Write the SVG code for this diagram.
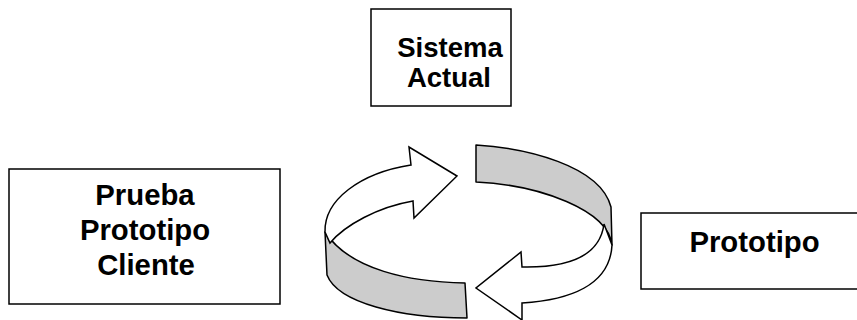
<svg xmlns="http://www.w3.org/2000/svg" width="857" height="320" viewBox="0 0 857 320">
  <style>
    .box { fill: #ffffff; stroke: #000000; stroke-width: 1.5; }
    .label { font-family: "Liberation Sans", Arial, sans-serif; font-weight: bold; fill: #000000; text-anchor: middle; }
    .band { fill: #cccccc; stroke: #000000; stroke-width: 1.5; stroke-linejoin: round; }
    .arrow { fill: #ffffff; stroke: #000000; stroke-width: 1.5; stroke-linejoin: miter; }
  </style>

  <rect width="857" height="320" fill="#ffffff"/>

  <!-- circular cycle: two ribbon arrows -->
  <g id="connectors">
    <!-- lower-left ribbon band -->
    <path class="band" d="M 325,232 L 327,275 C 338,303 400,318 467,318 L 465,283 C 410,282 350,270 325,232 Z"/>
    <!-- upper-right ribbon band -->
    <path class="band" d="M 476,145 C 525,148 600,165 611,207 L 612,245 C 608,210 540,185 476,182 Z"/>
    <!-- upper arrow, pointing right -->
    <path class="arrow" d="M 325,232 C 324,200 360,173 411,165 L 409,147 L 457,176 L 414,218 L 413,201 C 378,207 345,225 330,243 Z"/>
    <!-- lower arrow, pointing left -->
    <path class="arrow" d="M 612,245 C 610,285 570,300 522,303 L 522,320 L 476,288 L 521,252 L 522,267 C 570,268 600,255 604,224 Z"/>
  </g>

  <g id="sistema-actual">
    <rect class="box" x="371" y="9" width="140" height="97"/>
    <text class="label" x="450" y="57" font-size="27.5">Sistema</text>
    <text class="label" x="449" y="87" font-size="27.5">Actual</text>
  </g>

  <g id="prueba-prototipo-cliente">
    <rect class="box" x="9" y="169" width="271" height="135"/>
    <text class="label" x="145" y="205" font-size="29.3">Prueba</text>
    <text class="label" x="145" y="240" font-size="29.3">Prototipo</text>
    <text class="label" x="146" y="275" font-size="29.3">Cliente</text>
  </g>

  <g id="prototipo">
    <rect class="box" x="641" y="213" width="230" height="76"/>
    <text class="label" x="754.5" y="252" font-size="29.3">Prototipo</text>
  </g>
</svg>
